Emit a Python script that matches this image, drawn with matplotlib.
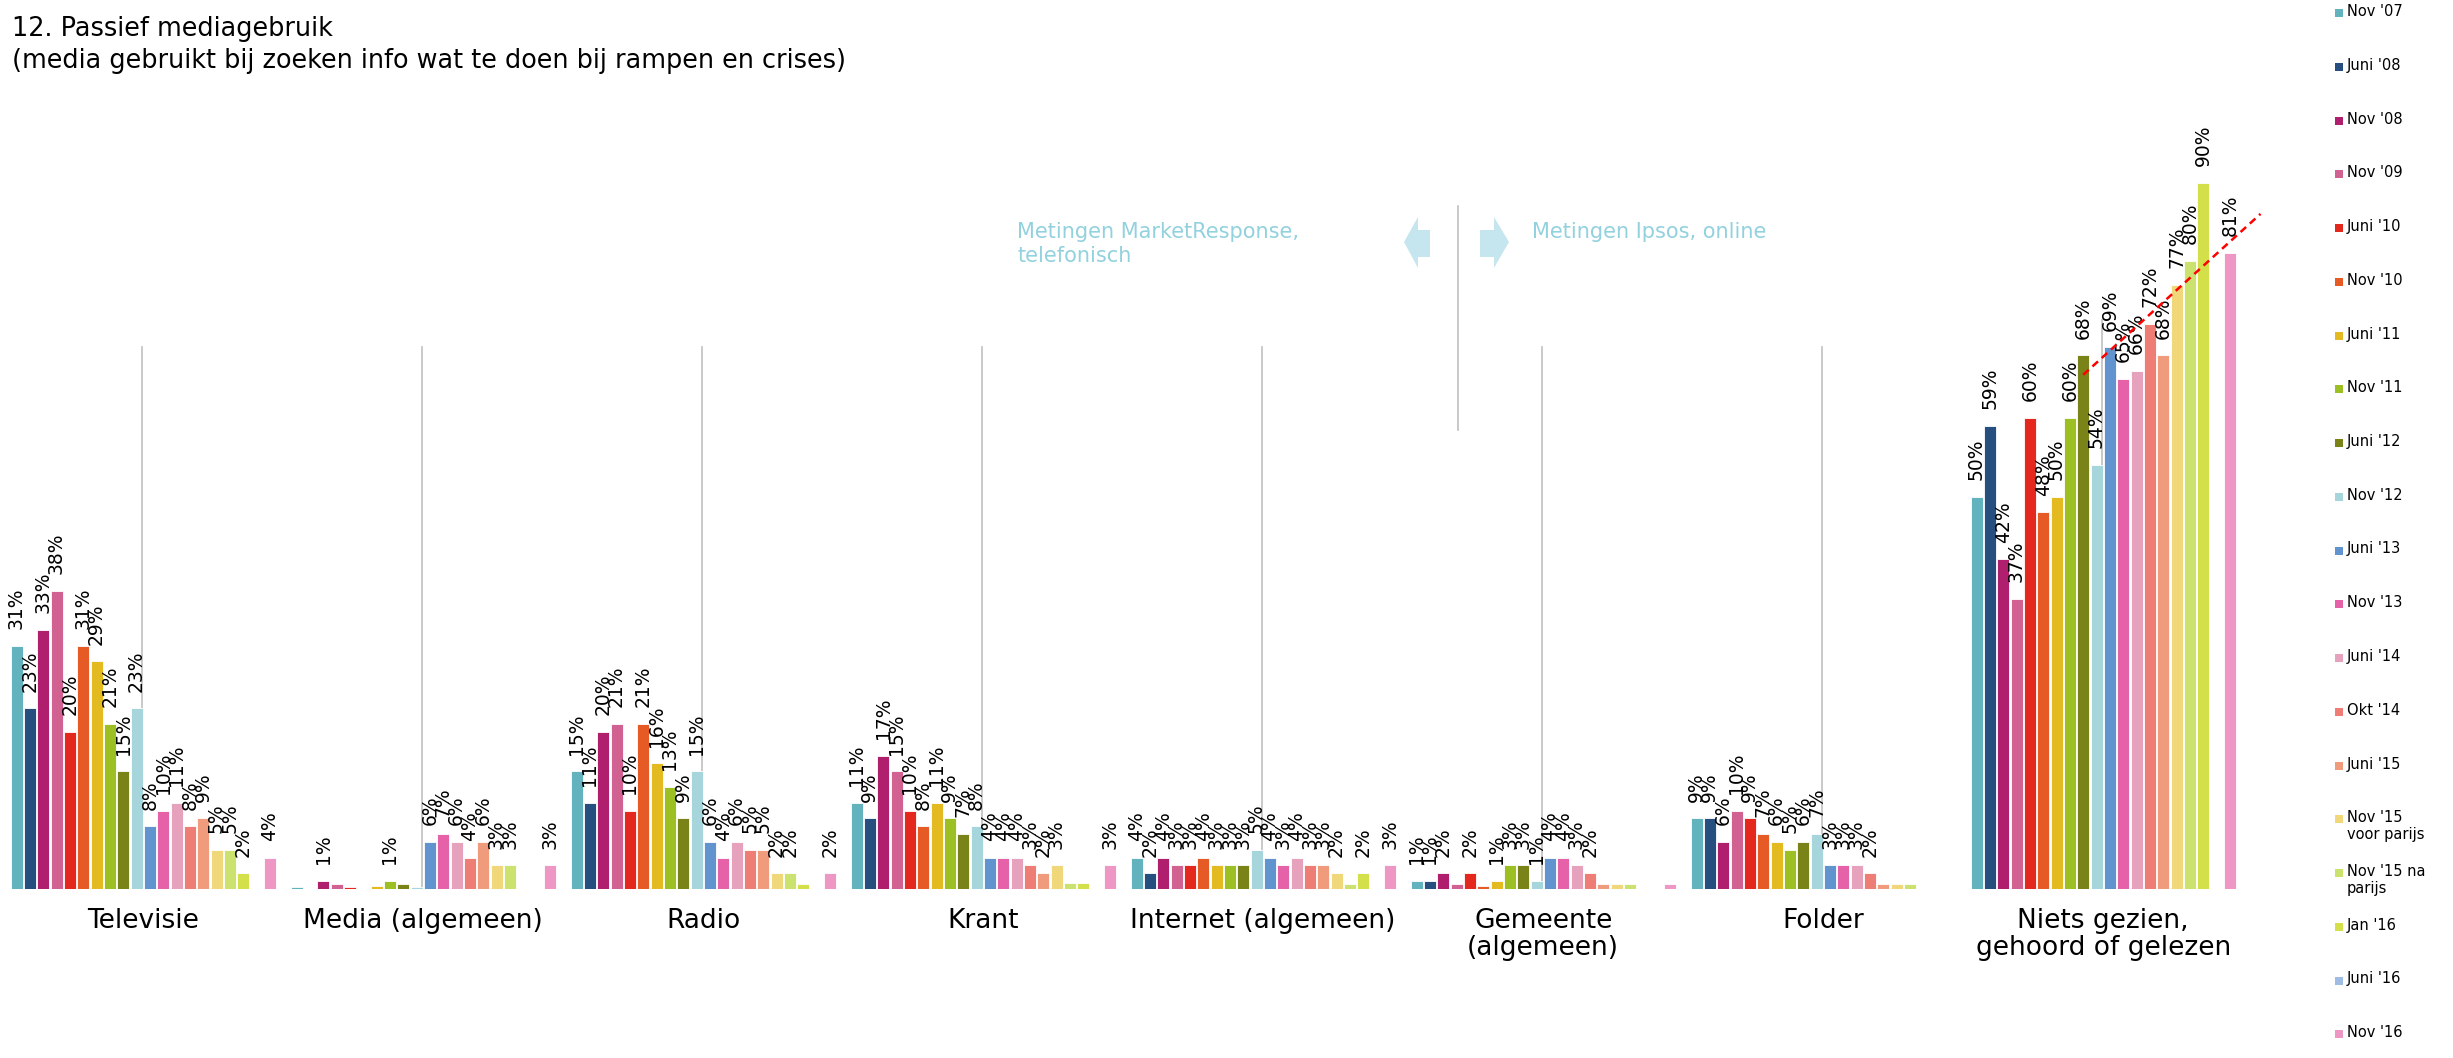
import numpy as np
import matplotlib.pyplot as plt
from matplotlib.patches import Rectangle, Polygon
from matplotlib.transforms import blended_transform_factory

nan = np.nan

# meetmomenten (reeksen)
reeksen = ["Nov '07", "Juni '08", "Nov '08", "Nov '09", "Juni '10", "Nov '10",
           "Juni '11", "Nov '11", "Juni '12", "Nov '12", "Juni '13", "Nov '13",
           "Juni '14", "Okt '14", "Juni '15", "Nov '15\nvoor parijs",
           "Nov '15 na\nparijs", "Jan '16", "Juni '16", "Nov '16"]
kleuren = ['#62B3BE', '#264F80', '#B01E6E', '#D16190', '#E4281E', '#E55A25',
           '#E3BB20', '#9CC023', '#798318', '#A6D5DB', '#6193CE', '#E562A8',
           '#E6A1BC', '#EE7D76', '#F09C7C', '#EFD77A', '#CBE36E', '#D4E04A',
           '#9FBCE5', '#EE97C5']

categorieen = ['Televisie', 'Media (algemeen)', 'Radio', 'Krant',
               'Internet (algemeen)', 'Gemeente\n(algemeen)', 'Folder',
               'Niets gezien,\ngehoord of gelezen']

# percentages per categorie, in volgorde van de reeksen
televisie = [31, 23, 33, 38, 20, 31, 29, 21, 15, 23, 8, 10, 11, 8, 9, 5, 5, 2, nan, 4]
media = [0.2, nan, 1, 0.7, 0.3, nan, 0.4, 1, 0.6, 0.2, 6, 7, 6, 4, 6, 3, 3, nan, nan, 3]
radio = [15, 11, 20, 21, 10, 21, 16, 13, 9, 15, 6, 4, 6, 5, 5, 2, 2, 0.7, nan, 2]
krant = [11, 9, 17, 15, 10, 8, 11, 9, 7, 8, 4, 4, 4, 3, 2, 3, 0.8, 0.8, nan, 3]
internet = [4, 2, 4, 3, 3, 4, 3, 3, 3, 5, 4, 3, 4, 3, 3, 2, 0.7, 2, nan, 3]
gemeente = [1, 1, 2, 0.7, 2, 0.4, 1, 3, 3, 1, 4, 4, 3, 2, 0.7, 0.7, 0.7, nan, nan, 0.7]
folder = [9, 9, 6, 10, 9, 7, 6, 5, 6, 7, 3, 3, 3, 2, 0.7, 0.7, 0.7, nan, nan, nan]
niets = [50, 59, 42, 37, 60, 48, 50, 60, 68, 54, 69, 65, 66, 72, 68, 77, 80, 90, nan, 81]

waarden = [televisie, media, radio, krant, internet, gemeente, folder, niets]

# trendlijn bij 'niets gezien' (begin en eind, in %)
trend_x = [8, 21.3]
trend_y = [65.5, 86]

W, H = 2453, 1058


def fx(px):
    return px / W


def fy(py):
    return 1 - py / H


fig = plt.figure(figsize=(24.53, 10.58), dpi=100)
ax = fig.add_axes([0, fy(889), fx(2300), 785 / H])
ax.set_xlim(-1.2375, 171.26)
ax.set_ylim(0, 100)
ax.axis('off')

n = len(reeksen)
stap = n + 1

for g, vals in enumerate(waarden):
    for i, v in enumerate(vals):
        if np.isnan(v):
            continue
        x = g * stap + i
        ax.bar(x, v, width=0.9, color=kleuren[i], edgecolor='white', linewidth=0.6, zorder=2)
        if v >= 1:
            ax.annotate(f'{v:.0f}%', (x, v), xytext=(0, 12), textcoords='offset points',
                        rotation=90, ha='center', va='bottom', fontsize=13.5,
                        color='black', zorder=4, annotation_clip=False)
    # scheidingslijn tussen telefonisch en online
    top = 72.5 if g == len(waarden) - 1 else 69
    ax.plot([g * stap + 9.4] * 2, [0, top], color='#C0C0C0', lw=1.2, zorder=1)

# trendlijn
g_n = len(waarden) - 1
ax.plot([g_n * stap + t for t in trend_x], trend_y, color='#FF0000', lw=1.8,
        ls=(0, (3, 2)), zorder=5, clip_on=False)

# categorie labels
tr = blended_transform_factory(ax.transData, fig.transFigure)
for g, naam in enumerate(categorieen):
    ax.text(g * stap + 9.5, fy(908), naam, transform=tr, ha='center', va='top',
            fontsize=19, linespacing=1.05)

# annotatie in het midden
ax.plot([108.1, 108.1], [58.5, 87], color='#C0C0C0', lw=1.2, clip_on=False)
blauw = '#C5E6EE'
fig.patches.append(Polygon([(fx(1404), fy(242)), (fx(1418), fy(217)), (fx(1418), fy(230)),
                            (fx(1430), fy(230)), (fx(1430), fy(257)), (fx(1418), fy(257)),
                            (fx(1418), fy(268))], closed=True, transform=fig.transFigure,
                           facecolor=blauw, edgecolor='none'))
fig.patches.append(Polygon([(fx(1509), fy(242)), (fx(1494), fy(217)), (fx(1494), fy(230)),
                            (fx(1480), fy(230)), (fx(1480), fy(257)), (fx(1494), fy(257)),
                            (fx(1494), fy(268))], closed=True, transform=fig.transFigure,
                           facecolor=blauw, edgecolor='none'))
fig.text(fx(1017), fy(222), 'Metingen MarketResponse,\ntelefonisch', color='#92D1DE',
         fontsize=15, va='top', ha='left', linespacing=1.25)
fig.text(fx(1532), fy(222), 'Metingen Ipsos, online', color='#92D1DE',
         fontsize=15, va='top', ha='left')

# titel
fig.text(fx(12), fy(16), '12. Passief mediagebruik\n(media gebruikt bij zoeken info wat te doen bij rampen en crises)',
         fontsize=18.4, va='top', ha='left', linespacing=1.3)

# legenda
for i, naam in enumerate(reeksen):
    yc = 13 + 53.75 * i
    fig.patches.append(Rectangle((fx(2335), fy(yc + 4)), fx(8), 8 / H, transform=fig.transFigure,
                                 facecolor=kleuren[i], edgecolor='none'))
    fig.text(fx(2347), fy(yc - 9), naam, fontsize=10.5, va='top', ha='left', linespacing=1.15)

plt.savefig('out.png', dpi=100)
plt.close()
